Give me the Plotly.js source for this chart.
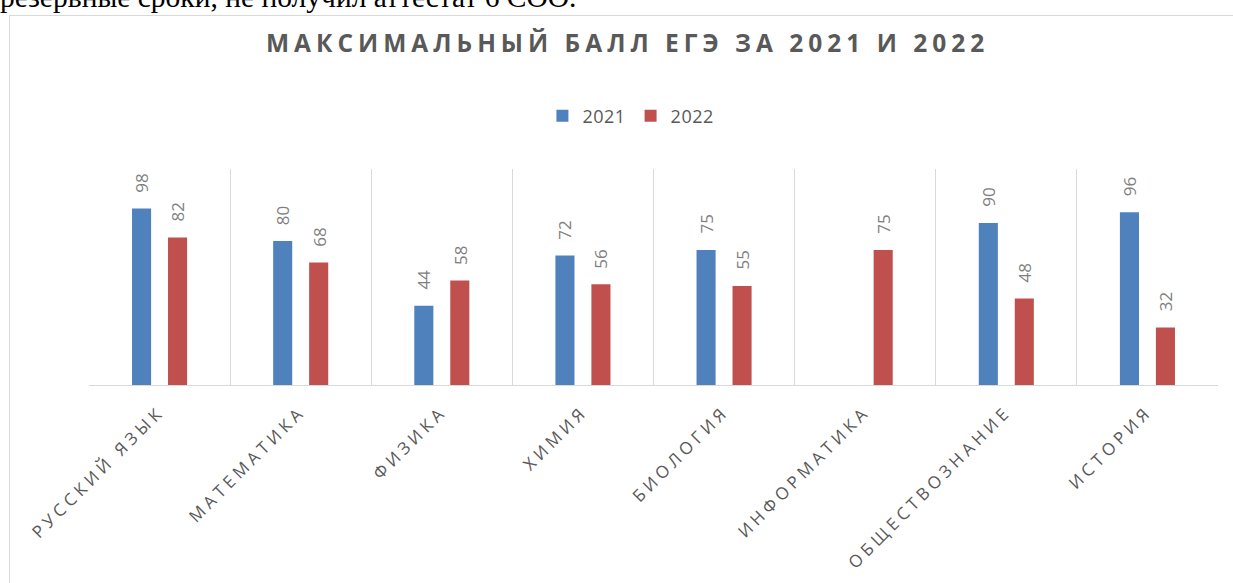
<!DOCTYPE html>
<html>
<head>
<meta charset="utf-8">
<script src="https://cdn.plot.ly/plotly-3.0.1.min.js"></script>
<style>
  html, body { margin: 0; padding: 0; background: #fff; overflow: hidden; }
  #top { position: absolute; left: 0; top: -19px; font-family: "Liberation Serif", "Times New Roman", serif; font-size: 29.5px; color: #000; white-space: nowrap; }
  #frame { position: absolute; left: 9px; top: 15px; width: 1300px; height: 700px; border-left: 1.5px solid #d9d9d9; border-top: 1.5px solid #d9d9d9; }
  #chart { position: absolute; left: 0; top: 0; width: 1233px; height: 583px; }
  .gtitle { letter-spacing: 5px; }
  .xtick text { letter-spacing: 4.2px; }
  .legendtext { letter-spacing: 0.5px; }
</style>
</head>
<body>
<div id="top">резервные сроки, не получил аттестат 6 СОО.</div>
<div id="frame"></div>
<div id="chart"></div>
<script>
const categories = ["РУССКИЙ ЯЗЫК", "МАТЕМАТИКА", "ФИЗИКА", "ХИМИЯ", "БИОЛОГИЯ", "ИНФОРМАТИКА", "ОБЩЕСТВОЗНАНИЕ", "ИСТОРИЯ"];
const values2021 = [98, 80, 44, 72, 75, null, 90, 96];
const values2022 = [82, 68, 58, 56, 55, 75, 48, 32];
const seriesNames = ["2021", "2022"];
const colors = ["#4f81bd", "#c0504d"];

const font = 'Open Sans, sans-serif';
const grey = '#595959';

const traces = [values2021, values2022].map((vals, k) => ({
  type: 'bar', name: seriesNames[k], x: categories, y: vals,
  marker: { color: colors[k] }, hoverinfo: 'x+y+name'
}));

const annotations = [];
[values2021, values2022].forEach((vals, k) => {
  vals.forEach((v, i) => {
    if (v === null) return;
    annotations.push({
      x: categories[i], y: v, xref: 'x', yref: 'y', text: String(v),
      showarrow: false, textangle: -90, yanchor: 'bottom', xanchor: 'center',
      yshift: 14, xshift: k === 0 ? -18 : 18,
      font: { family: font, size: 17, color: '#7f7f7f' }
    });
  });
});

const layout = {
  width: 1233, height: 583,
  margin: { l: 89, r: 15, t: 169, b: 198 },
  paper_bgcolor: 'rgba(0,0,0,0)', plot_bgcolor: 'rgba(0,0,0,0)',
  barmode: 'group', bargap: 0.49, bargroupgap: 0.47,
  title: { text: '<b>МАКСИМАЛЬНЫЙ БАЛЛ ЕГЭ ЗА 2021 И 2022</b>', x: 0.509, xanchor: 'center', y: 1 - 43/583, yanchor: 'middle', yref: 'container',
    font: { family: font, size: 24.5, color: grey } },
  showlegend: true,
  legend: { orientation: 'h', x: 0.48, xanchor: 'center', y: 1.245, yanchor: 'middle',
    font: { family: font, size: 18, color: grey }, itemwidth: 30, traceorder: 'normal' },
  xaxis: { type: 'category', tickson: 'boundaries', showgrid: true, gridcolor: '#d9d9d9', gridwidth: 1,
    showline: true, linecolor: '#d9d9d9', linewidth: 1, ticks: '', tickangle: -45, ticklabelstandoff: 9,
    tickfont: { family: font, size: 17, color: grey }, mirror: false, zeroline: false },
  yaxis: { range: [0, 120], showgrid: false, showticklabels: false, zeroline: false, showline: false, ticks: '' },
  annotations: annotations
};

Plotly.newPlot('chart', traces, layout, { displayModeBar: false, staticPlot: true });
</script>
</body>
</html>
